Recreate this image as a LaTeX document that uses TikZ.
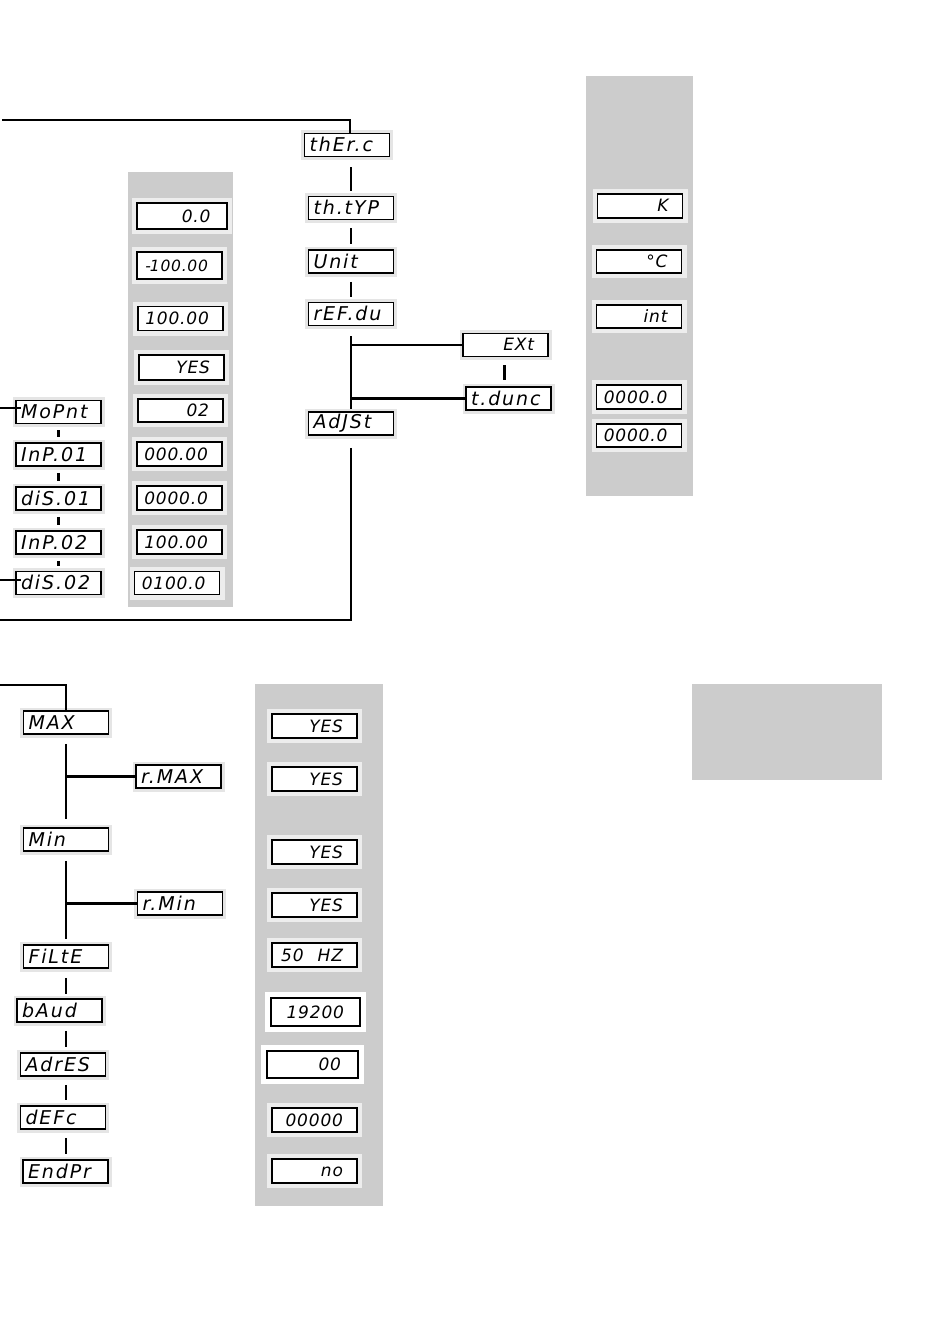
\documentclass[tikz,border=0pt]{standalone}
\usepackage{fontspec}
\newfontfamily\segn{DejaVu Sans}[LetterSpace=10]
\newfontfamily\segv{DejaVu Sans}[LetterSpace=5]
\newcommand\dn[1]{\hbox to 75pt{\rule[-0.5pt]{0pt}{13.5pt}\fontsize{19}{19}\segn\itshape #1\hss}}
\newcommand\dval[1]{\hbox to 57pt{\rule[-0.5pt]{0pt}{12.5pt}\hss\fontsize{17}{17}\segv\itshape #1}}
\newcommand\dvalw[1]{\hbox to 57pt{\rule[-0.5pt]{0pt}{12.5pt}\hss\fontsize{15.5}{15.5}\segv\itshape #1}}
\tikzset{
  disp/.style={draw=black, line width=1.6pt, fill=white, minimum width=85pt,
    minimum height=23pt, inner sep=0pt},
  nhalo/.style={preaction={draw=black!10, line width=7pt}},
  vhalo/.style={preaction={draw=black!7, line width=10pt}},
  whalo/.style={preaction={draw=white, line width=12pt}},
  namebox/.style={disp, nhalo},
  valbox/.style={disp, vhalo},
  conn/.style={line width=2.2pt},
  panel/.style={fill=black!20},
}
\begin{document}
\begin{tikzpicture}[x=1pt,y=-1pt]
\useasboundingbox (0,0) rectangle (950,1334);
\fill[white] (0,0) rectangle (950,1334);
% grey panels
\fill[panel] (128,172) rectangle (233,607);
\fill[panel] (586,76) rectangle (693,496);
\fill[panel] (255,684) rectangle (383,1206);
\fill[panel] (692,684) rectangle (882,780);

% main chain (top)
\node[namebox] (therc) at (347,145)   {\dn{thEr.c}};
\node[namebox] (thtyp) at (351,208)   {\dn{th.tYP}};
\node[namebox] (unit)  at (351,261.5) {\dn{Unit}};
\node[namebox] (refdu) at (351,314)   {\dn{rEF.du}};
\node[namebox] (ext)   at (505.5,345) {\dval{EXt}};
\node[namebox] (tdunc) at (508.5,398.5) {\dn{t.dunc}};
\node[namebox] (adjst) at (351,423.5) {\dn{AdJSt}};

% left chain
\node[namebox] (mopnt) at (58.5,412)  {\dn{MoPnt}};
\node[namebox] (inp1)  at (58.5,454.5){\dn{InP.01}};
\node[namebox] (dis1)  at (58.5,498.5){\dn{diS.01}};
\node[namebox] (inp2)  at (58.5,542.5){\dn{InP.02}};
\node[namebox] (dis2)  at (58.5,583)  {\dn{diS.02}};

% value column 1
\node[valbox, minimum width=90pt, minimum height=26pt] (v1) at (182,216) {\dval{0.0}};
\node[valbox, minimum height=27pt] (v2) at (179.5,265.5) {\dvalw{-\kern-1pt 100.00}};
\node[valbox, minimum height=24pt] (v3) at (180.5,318.5) {\dval{100.00}};
\node[valbox, minimum height=25pt] (v4) at (181.5,367.5) {\dval{YES}};
\node[valbox] (v5) at (180.5,410.5) {\dval{02}};
\node[valbox, minimum height=24pt] (v6) at (179.5,454) {\dval{000.00}};
\node[valbox, minimum height=24pt] (v7) at (179.5,498) {\dval{0000.0}};
\node[valbox, minimum height=24pt] (v8) at (179.5,542) {\dval{100.00}};
\node[valbox] (v9) at (177,583) {\dval{0100.0}};

% value column 2
\node[valbox, minimum height=24pt] (r1) at (640,206)   {\dval{K}};
\node[valbox] (r2) at (639,261.5) {\dval{°C}};
\node[valbox] (r3) at (639,316.5) {\dval{int}};
\node[valbox, minimum height=24pt] (r4) at (639,397)   {\dval{0000.0}};
\node[valbox] (r5) at (639,435.5) {\dval{0000.0}};

% bottom chain
\node[namebox] (max)   at (66,722.5)    {\dn{MAX}};
\node[namebox] (rmax)  at (178.5,776.5) {\dn{r.MAX}};
\node[namebox] (min)   at (66,839.5)    {\dn{Min}};
\node[namebox] (rmin)  at (180,903.5)   {\dn{r.Min}};
\node[namebox] (filte) at (66,956.5)    {\dn{FiLtE}};
\node[namebox] (baud)  at (59.5,1010.5) {\dn{bAud}};
\node[namebox] (adres) at (63,1064.5)   {\dn{AdrES}};
\node[namebox] (defc)  at (63,1117.5)   {\dn{dEFc}};
\node[namebox] (endpr) at (65.5,1171.5) {\dn{EndPr}};

% bottom values
\node[valbox, minimum height=24pt] (b1) at (314.5,726)  {\dval{YES}};
\node[valbox, minimum height=24pt] (b2) at (314.5,779)  {\dval{YES}};
\node[valbox, minimum height=24pt] (b3) at (314.5,852)  {\dval{YES}};
\node[valbox, minimum height=24pt] (b4) at (314.5,905)  {\dval{YES}};
\node[valbox, minimum height=24pt] (b5) at (314.5,955)  {\dval{50\hspace{14pt}HZ}};
\node[disp, whalo, minimum width=89pt, minimum height=28pt] (b6) at (315.5,1012) {\dval{19200}};
\node[disp, whalo, minimum width=91pt, minimum height=27pt] (b7) at (312.5,1064.5) {\dval{00}};
\node[valbox, minimum height=24pt] (b8) at (314.5,1120) {\dval{00000}};
\node[valbox, minimum height=24pt] (b9) at (314.5,1171) {\dval{no}};

% connectors top
\coordinate (in1) at (2,120);
\coordinate (out1) at (0,620);
\draw[conn] (in1) -| ([xshift=3pt]therc.north);
\draw[conn, shorten <=10pt, shorten >=5pt] (therc.south -| thtyp.north) -- (thtyp.north);
\draw[conn, shorten <=8pt, shorten >=5pt] (thtyp.south) -- (unit.north);
\draw[conn, shorten <=8pt, shorten >=5pt] (unit.south) -- (refdu.north);
\draw[conn, shorten <=10pt, shorten >=2pt] (refdu.south) -- (adjst.north);
\draw[conn] (refdu.south |- ext.west) -- (ext.west);
\draw[conn] (refdu.south |- tdunc.west) -- (tdunc.west);
\draw[conn, shorten <=8pt, shorten >=6pt] ([xshift=-1pt]ext.south) -- ([xshift=-1pt]ext.south |- tdunc.north);
\draw[conn, shorten <=12pt] (adjst.south) |- (out1);

% connectors left
\coordinate (in2) at (0,408);
\coordinate (in3) at (0,580);
\draw[conn] (in2) -- ([xshift=6pt]mopnt.west |- in2);
\draw[conn] (in3) -- ([xshift=6pt]dis2.west |- in3);
\draw[conn, shorten <=6pt, shorten >=5pt] (mopnt.south) -- (inp1.north);
\draw[conn, shorten <=6pt, shorten >=5pt] (inp1.south) -- (dis1.north);
\draw[conn, shorten <=6pt, shorten >=5pt] (dis1.south) -- (inp2.north);
\draw[conn, shorten <=6pt, shorten >=5pt] (inp2.south) -- (dis2.north);

% connectors bottom
\coordinate (in4) at (0,685);
\draw[conn] (in4) -| (max.north);
\draw[conn, shorten <=9pt, shorten >=8pt] (max.south) -- (min.north);
\draw[conn] (max.south |- rmax.west) -- (rmax.west);
\draw[conn, shorten <=9pt, shorten >=5pt] (min.south) -- (filte.north);
\draw[conn] (min.south |- rmin.west) -- (rmin.west);
\draw[conn, shorten <=9pt, shorten >=4pt] (filte.south) -- (filte.south |- baud.north);
\draw[conn, shorten <=8pt, shorten >=5pt] (baud.south -| filte.south) -- (filte.south |- adres.north);
\draw[conn, shorten <=8pt, shorten >=5pt] (adres.south -| filte.south) -- (filte.south |- defc.north);
\draw[conn, shorten <=8pt, shorten >=5pt] (defc.south -| filte.south) -- (filte.south |- endpr.north);
\end{tikzpicture}
\end{document}
